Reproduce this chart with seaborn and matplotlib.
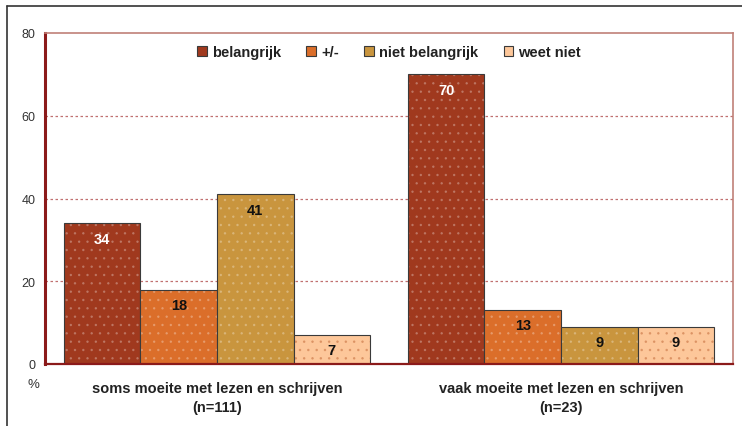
import matplotlib
matplotlib.use("Agg")
import matplotlib.pyplot as plt
from matplotlib.lines import Line2D
from matplotlib.patches import Patch
import seaborn as sns
import pandas as pd

groups = ["soms moeite met lezen en schrijven\n(n=111)",
          "vaak moeite met lezen en schrijven\n(n=23)"]
answers = ["belangrijk", "+/-", "niet belangrijk", "weet niet"]
soms = [34, 18, 41, 7]
vaak = [70, 13, 9, 9]
colors = ["#A0391E", "#DB6E2A", "#C9953E", "#FDC79A"]
label_colors = ["white", "#111111", "#111111", "#111111"]
yticks = [0, 20, 40, 60, 80]

rows = []
for g, vals in zip(groups, [soms, vaak]):
    for a, v in zip(answers, vals):
        rows.append({"groep": g, "antwoord": a, "pct": v})
df = pd.DataFrame(rows)

sns.set_style("white")
plt.rcParams["font.family"] = ["Liberation Sans", "DejaVu Sans"]
plt.rcParams["hatch.linewidth"] = 0.6

fig = plt.figure(figsize=(7.42, 4.27), dpi=100)
ax = fig.add_axes([45/742, 1-365/427, (733-45)/742, (365-34)/427])

sns.barplot(data=df, x="groep", y="pct", hue="antwoord", hue_order=answers,
            palette=colors, width=0.89, saturation=1, gap=0,
            edgecolor="#3a3a3a", linewidth=0.8, ax=ax, legend=False)

ax.set_xlim(-0.5, 1.5)
ax.set_ylim(0, 80)
ax.set_yticks(yticks)
ax.set_yticklabels([str(t) for t in yticks], fontsize=9, color="#333333")
ax.set_xlabel("")
ax.set_ylabel("")
ax.tick_params(axis="y", direction="out", length=4, width=2, color="#8B1A1A", pad=3)
ax.tick_params(axis="x", which="major", length=0, pad=12)
ax.set_xticks([-0.5, 0.5, 1.5], minor=True)
ax.tick_params(axis="x", which="minor", direction="out", length=4, width=1.5, color="#8B1A1A")
for lbl in ax.get_xticklabels():
    lbl.set_fontweight("bold")
    lbl.set_fontsize(10.5)
    lbl.set_color("#222222")
    lbl.set_linespacing(1.45)

for y in [20, 40, 60]:
    ax.axhline(y, color="#C07070", lw=0.9, ls=(0, (2, 2)), zorder=0)

ax.spines["left"].set_color("#8B1A1A")
ax.spines["left"].set_linewidth(2.2)
ax.spines["bottom"].set_color("#8B1A1A")
ax.spines["bottom"].set_linewidth(1.6)
ax.spines["top"].set_color("#C08078")
ax.spines["top"].set_linewidth(1.2)
ax.spines["right"].set_color("#C08078")
ax.spines["right"].set_linewidth(1.2)

# bar labels and dotted texture
for i, cont in enumerate(ax.containers):
    for p in cont.patches:
        p.set_hatch("..")
        if i < 3:
            p._hatch_color = matplotlib.colors.to_rgba("#ffffff", 0.22)
        else:
            p._hatch_color = matplotlib.colors.to_rgba("#D08050", 0.6)
    ax.bar_label(cont, labels=[f"{v:.0f}" for v in cont.datavalues], padding=-16,
                 fontsize=10.5, fontweight="bold", color=label_colors[i])

handles = [Patch(facecolor=c, edgecolor="#3a3a3a", linewidth=0.8) for c in colors]
leg = ax.legend(handles, answers, loc="center", bbox_to_anchor=(0.5, 0.943), ncol=4,
                frameon=False, handlelength=0.65, handleheight=0.65, handletextpad=0.35,
                columnspacing=1.75, prop={"weight": "bold", "size": 10.5})
for t in leg.get_texts():
    t.set_color("#222222")

fig.text(33/742, 1-385/427, "%", fontsize=9.5, color="#333333", ha="center", va="center")

fig.add_artist(Line2D([7/742, 7/742], [0, 1-7/427], color="#333333", lw=1.2, transform=fig.transFigure))
fig.add_artist(Line2D([7/742, 1], [1-7/427, 1-7/427], color="#333333", lw=1.2, transform=fig.transFigure))

fig.savefig("out.png", dpi=100)
